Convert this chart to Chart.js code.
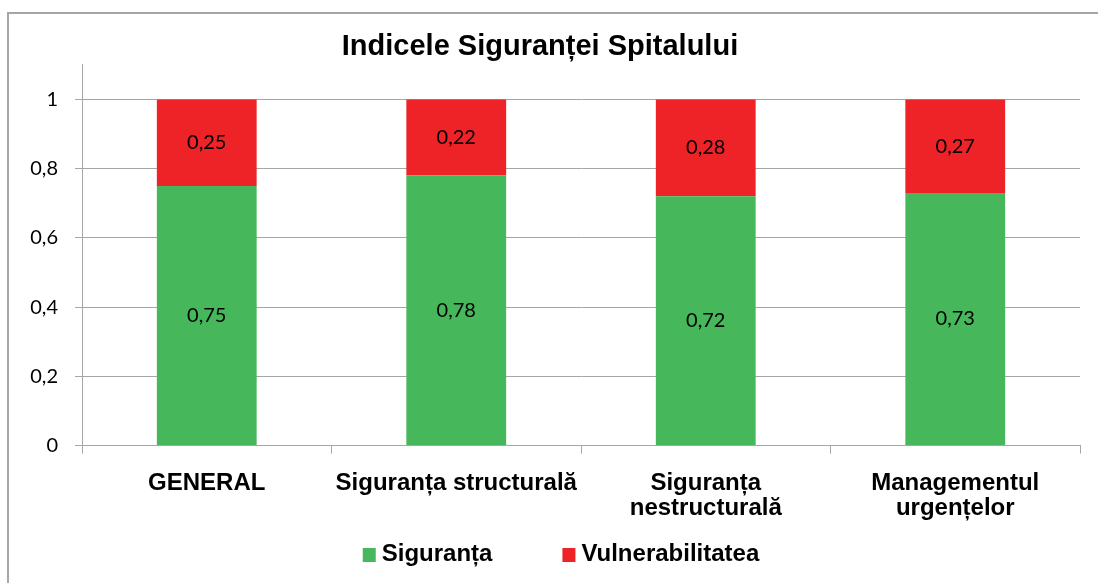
<!DOCTYPE html>
<html><head><meta charset="utf-8">
<script src="https://cdn.jsdelivr.net/npm/chart.js@4/dist/chart.umd.min.js"></script>
<style>html,body{margin:0;padding:0;background:#fff}#wrap{width:1098px;height:583px;position:relative}</style>
</head><body><div id="wrap"><canvas id="c" width="1098" height="583"></canvas></div>
<script>
const categories = [["GENERAL"], ["Siguranța structurală"], ["Siguranța", "nestructurală"], ["Managementul", "urgențelor"]];
const siguranta = [0.75, 0.78, 0.72, 0.73];
const vulnerabilitatea = [0.25, 0.22, 0.28, 0.27];
const seriesNames = ["Siguranța", "Vulnerabilitatea"];
const seriesColors = ["#47b75c", "#ed2327"];
const yTicks = [0, 0.2, 0.4, 0.6, 0.8, 1];
const chartTitle = "Indicele Siguranței Spitalului";

const fmt = v => String(Math.round(v * 100) / 100).replace('.', ',');

const borderPlugin = {
  id: 'frame',
  beforeDraw(chart) {
    const ctx = chart.ctx;
    ctx.save();
    ctx.strokeStyle = '#a6a6a6';
    ctx.lineWidth = 2;
    ctx.strokeRect(8, 13, 1200, 700);
    ctx.restore();
  }
};
const labelPlugin = {
  id: 'vals',
  afterDatasetsDraw(chart) {
    const ctx = chart.ctx;
    ctx.save();
    ctx.font = '20px Lato';
    ctx.fillStyle = '#000';
    ctx.textAlign = 'center';
    ctx.textBaseline = 'middle';
    chart.data.datasets.forEach((ds, i) => {
      chart.getDatasetMeta(i).data.forEach((el, j) => {
        const p = el.getCenterPoint();
        ctx.fillText(fmt(ds.data[j]), p.x, p.y);
      });
    });
    ctx.restore();
  }
};
const legendPlugin = {
  id: 'customLegend',
  afterDraw(chart) {
    const ctx = chart.ctx;
    ctx.save();
    ctx.font = 'bold 24px "Liberation Sans"';
    ctx.textBaseline = 'middle';
    const box = 13, gap = 6, spacing = 70;
    const items = chart.data.datasets.map(ds => ({ text: ds.label, color: ds.backgroundColor, w: ctx.measureText(ds.label).width }));
    let total = 0;
    items.forEach((it, i) => { total += box + gap + it.w + (i ? spacing : 0); });
    let x = chart.width / 2 + 12 - total / 2;
    const y = 554;
    items.forEach((it, i) => {
      if (i) x += spacing;
      ctx.fillStyle = it.color;
      ctx.fillRect(x, y - 6, box, box + 1);
      x += box + gap;
      ctx.fillStyle = '#000';
      ctx.fillText(it.text, x, y);
      x += it.w;
    });
    ctx.restore();
  }
};

new Chart(document.getElementById('c'), {
  type: 'bar',
  data: {
    labels: categories,
    datasets: [
      { label: seriesNames[0], data: siguranta, backgroundColor: seriesColors[0], barPercentage: 0.4, categoryPercentage: 1 },
      { label: seriesNames[1], data: vulnerabilitatea, backgroundColor: seriesColors[1], barPercentage: 0.4, categoryPercentage: 1 }
    ]
  },
  options: {
    responsive: false,
    animation: false,
    layout: { padding: { left: 0, right: 18, top: 0, bottom: 45 } },
    plugins: {
      title: { display: true, text: chartTitle, color: '#000', font: { family: 'Liberation Sans', size: 29, weight: 'bold', lineHeight: 1.2 }, padding: { top: 30, bottom: 0 } },
      legend: { display: false },
      tooltip: { enabled: false }
    },
    scales: {
      x: {
        stacked: true,
        grid: { offset: true, drawOnChartArea: false, drawTicks: true, tickLength: 8, color: '#a6a6a6' },
        border: { color: '#a6a6a6', width: 1 },
        ticks: { color: '#000', font: { family: 'Liberation Sans', size: 24, weight: 'bold', lineHeight: 1.05 }, padding: 17, maxRotation: 0, autoSkip: false }
      },
      y: {
        stacked: true,
        min: 0, max: 1.1,
        afterBuildTicks: s => { s.ticks = yTicks.map(v => ({ value: v })); },
        afterFit: s => { s.width = 82; },
        grid: { color: '#a6a6a6', tickLength: 7 },
        border: { color: '#a6a6a6', width: 1 },
        ticks: { color: '#000', font: { family: 'Lato', size: 20 }, padding: 17, callback: v => fmt(v) }
      }
    }
  },
  plugins: [borderPlugin, labelPlugin, legendPlugin]
});
</script></body></html>
